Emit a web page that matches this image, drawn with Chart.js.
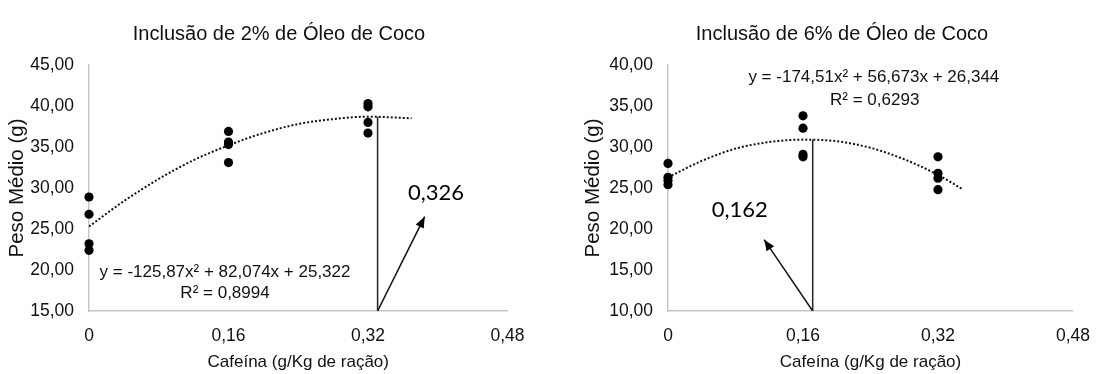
<!DOCTYPE html>
<html>
<head>
<meta charset="utf-8">
<script src="https://cdn.jsdelivr.net/npm/chart.js@4.4.0/dist/chart.umd.min.js"></script>
<style>
body { margin: 0; background: #fff; width: 1105px; height: 374px; overflow: hidden; position: relative; }
.box { position: absolute; top: 0; height: 374px; }
#box2 { left: 0; width: 558px; }
#box6 { left: 579px; width: 526px; }
</style>
</head>
<body>
<div class="box" id="box2"><canvas id="chart2"></canvas></div>
<div class="box" id="box6"><canvas id="chart6"></canvas></div>
<script>
/** DATA **/
// x levels of caffeine for every bird group (g/Kg)
const cafeina = [0, 0, 0, 0, 0.16, 0.16, 0.16, 0.16, 0.32, 0.32, 0.32, 0.32]
// 2% coconut oil - peso medio (g)
const peso_2 = [28.9, 26.8, 23.2, 22.4, 36.9, 35.6, 35.3, 33.1, 40.3, 39.9, 38.0, 36.7]
// 6% coconut oil - peso medio (g)
const peso_6 = [28.0, 26.3, 25.9, 25.4, 33.8, 32.3, 29.1, 28.8, 28.8, 26.8, 26.2, 24.8]

// dotted trend lines
const trend_x_2 = [0, 0.04, 0.08, 0.12, 0.16, 0.20, 0.24, 0.28, 0.32, 0.37]
const trend_y_2 = [25.3, 28.4, 31.1, 33.4, 35.2, 36.7, 37.8, 38.4, 38.7, 38.5]
const trend_x_6 = [0, 0.04, 0.08, 0.12, 0.16, 0.20, 0.24, 0.28, 0.32, 0.35]
const trend_y_6 = [26.3, 28.3, 29.8, 30.6, 30.9, 30.7, 29.9, 28.5, 26.6, 24.8]

// optimum marker (vertical line) and arrow
const optimo_x_2 = [0.331, 0.331]
const optimo_y_2 = [15, 38.7]
const seta_x_2 = [0.331, 0.385]
const seta_y_2 = [15, 26.5]
const optimo_x_6 = [0.1715, 0.1715]
const optimo_y_6 = [10, 30.9]
const seta_x_6 = [0.1715, 0.114]
const seta_y_6 = [10, 18.7]

// axes
const x_ticks = [0, 0.16, 0.32, 0.48]
const x_tick_labels = ['0', '0,16', '0,32', '0,48']
const y_ticks_2 = [15, 20, 25, 30, 35, 40, 45]
const y_tick_labels_2 = ['15,00', '20,00', '25,00', '30,00', '35,00', '40,00', '45,00']
const y_ticks_6 = [10, 15, 20, 25, 30, 35, 40]
const y_tick_labels_6 = ['10,00', '15,00', '20,00', '25,00', '30,00', '35,00', '40,00']

// texts
const titulo_2 = 'Inclusão de 2% de Óleo de Coco'
const titulo_6 = 'Inclusão de 6% de Óleo de Coco'
const equacao_2 = ['y = -125,87x² + 82,074x + 25,322', 'R² = 0,8994']
const equacao_6 = ['y = -174,51x² + 56,673x + 26,344', 'R² = 0,6293']
const otimo_label_2 = '0,326'
const otimo_label_6 = '0,162'

const FONT = '"Liberation Sans", Arial, sans-serif'
const TXT = '#111'
const AXIS = '#c6c6c6'

function pts(xs, ys) {
    return xs.map((x, i) => ({x: x, y: ys[i]}))
}

// arrowhead + equation + label drawn on top of the datasets
const notes = {
    id: 'notes',
    afterDatasetsDraw(chart, args, opts) {
        const ctx = chart.ctx
        const sx = chart.scales.x, sy = chart.scales.y
        // arrow head on the last point of the arrow dataset
        const meta = chart.getDatasetMeta(3)
        const p0 = meta.data[0], p1 = meta.data[1]
        const ang = Math.atan2(p1.y - p0.y, p1.x - p0.x)
        ctx.save()
        ctx.fillStyle = '#000'
        ctx.beginPath()
        ctx.moveTo(p1.x, p1.y)
        ctx.lineTo(p1.x - 11 * Math.cos(ang) + 4.5 * Math.sin(ang), p1.y - 11 * Math.sin(ang) - 4.5 * Math.cos(ang))
        ctx.lineTo(p1.x - 11 * Math.cos(ang) - 4.5 * Math.sin(ang), p1.y - 11 * Math.sin(ang) + 4.5 * Math.cos(ang))
        ctx.closePath()
        ctx.fill()

        ctx.fillStyle = TXT
        ctx.textAlign = 'center'
        ctx.textBaseline = 'middle'
        ctx.font = '17px ' + FONT
        opts.eq.forEach((t, i) => {
            ctx.fillText(t, sx.getPixelForValue(opts.eqPos[i][0]), sy.getPixelForValue(opts.eqPos[i][1]))
        })
        ctx.font = '22px Lato, "Open Sans", sans-serif'
        ctx.fillStyle = '#000'
        ctx.fillText(opts.label, sx.getPixelForValue(opts.labelPos[0]), sy.getPixelForValue(opts.labelPos[1]))
        ctx.restore()
    }
}

function makeChart(id, d) {
    return new Chart(document.getElementById(id).getContext('2d'), {
        type: 'scatter',
        data: {
            datasets: [{
                data: pts(cafeina, d.peso),
                backgroundColor: '#000',
                borderWidth: 0,
                pointRadius: 4.6,
                clip: false,
            }, {
                type: 'line',
                data: pts(d.trendX, d.trendY),
                borderColor: '#111',
                borderWidth: 2,
                borderDash: [2, 2],
                pointRadius: 0,
                cubicInterpolationMode: 'monotone',
                fill: false,
            }, {
                type: 'line',
                data: pts(d.optX, d.optY),
                borderColor: '#222',
                borderWidth: 1.5,
                pointRadius: 0,
                fill: false,
            }, {
                type: 'line',
                data: pts(d.setaX, d.setaY),
                borderColor: '#111',
                borderWidth: 1.5,
                pointRadius: 0,
                fill: false,
            }]
        },
        options: {
            responsive: true,
            maintainAspectRatio: false,
            animation: false,
            layout: {padding: 0},
            plugins: {
                legend: {display: false},
                tooltip: {enabled: false},
                title: {
                    display: true,
                    text: d.titulo,
                    color: TXT,
                    font: {family: FONT, size: 20, weight: 'normal'},
                    padding: {top: 22, bottom: 19},
                },
                notes: {eq: d.eq, eqPos: d.eqPos, label: d.label, labelPos: d.labelPos},
            },
            scales: {
                x: {
                    type: 'linear',
                    min: 0,
                    max: 0.48,
                    afterBuildTicks: s => { s.ticks = x_ticks.map(v => ({value: v})) },
                    afterFit: s => { s.height = 63 },
                    grid: {display: false, drawTicks: false},
                    border: {display: true, color: AXIS, width: 1.5},
                    ticks: {
                        callback: (v, i) => x_tick_labels[i],
                        color: TXT,
                        font: {family: FONT, size: 17.5},
                        padding: 15,
                        maxRotation: 0,
                    },
                    title: {
                        display: true,
                        text: 'Cafeína (g/Kg de ração)',
                        color: TXT,
                        font: {family: FONT, size: 17},
                        padding: {top: 0, bottom: 1},
                    }
                },
                y: {
                    min: d.yTicks[0],
                    max: d.yTicks[d.yTicks.length - 1],
                    afterBuildTicks: s => { s.ticks = d.yTicks.map(v => ({value: v})) },
                    afterFit: s => { s.width = 89 },
                    grid: {display: false, drawTicks: false},
                    border: {display: true, color: AXIS, width: 1.5},
                    ticks: {
                        callback: (v, i) => d.yLabels[i],
                        color: TXT,
                        font: {family: FONT, size: 17.5},
                        padding: 15,
                    },
                    title: {
                        display: true,
                        text: 'Peso Médio (g)',
                        color: TXT,
                        font: {family: FONT, size: 20.5},
                        padding: {top: d.yTitlePad, bottom: 0},
                    }
                },
                dummy: {
                    position: 'right',
                    display: true,
                    grid: {display: false, drawTicks: false},
                    border: {display: false},
                    ticks: {display: false},
                    afterFit: s => { s.width = d.rightGap },
                }
            }
        },
        plugins: [notes]
    })
}

var chart_2 = makeChart('chart2', {
    peso: peso_2, trendX: trend_x_2, trendY: trend_y_2,
    optX: optimo_x_2, optY: optimo_y_2, setaX: seta_x_2, setaY: seta_y_2,
    yTicks: y_ticks_2, yLabels: y_tick_labels_2, titulo: titulo_2,
    eq: equacao_2, eqPos: [[0.156, 19.75], [0.156, 17.2]],
    label: otimo_label_2, labelPos: [0.398, 29.4],
    yTitlePad: 5, rightGap: 50.5,
})

var chart_6 = makeChart('chart6', {
    peso: peso_6, trendX: trend_x_6, trendY: trend_y_6,
    optX: optimo_x_6, optY: optimo_y_6, setaX: seta_x_6, setaY: seta_y_6,
    yTicks: y_ticks_6, yLabels: y_tick_labels_6, titulo: titulo_6,
    eq: equacao_6, eqPos: [[0.244, 38.5], [0.245, 35.7]],
    label: otimo_label_6, labelPos: [0.085, 22.3],
    yTitlePad: 2.5, rightGap: 20,
})
</script>
</body>
</html>
